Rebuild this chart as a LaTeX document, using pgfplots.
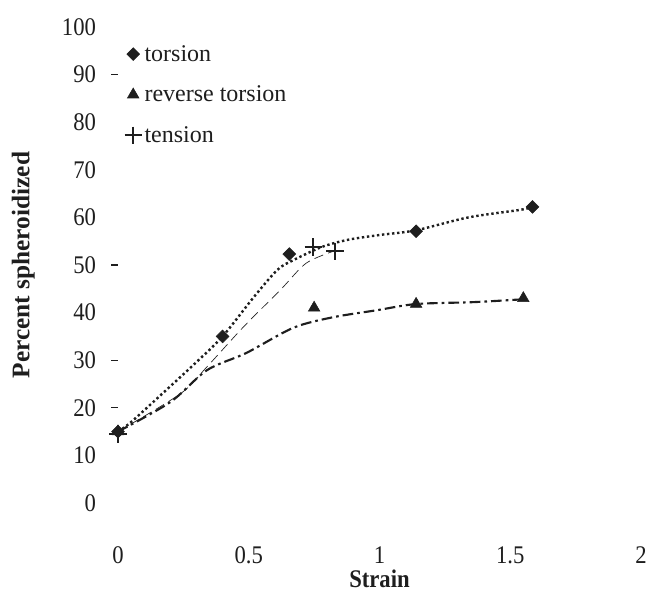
\documentclass[border=0pt]{standalone}
\usepackage{fontspec}
\setmainfont{Liberation Serif}
\usepackage{pgfplots}
\pgfplotsset{compat=1.18}

\definecolor{ink}{HTML}{1E1E1E}

\begin{document}
\begin{tikzpicture}
\begin{axis}[
    scale only axis,
    width=392.25pt,
    height=357pt,
    xmin=0, xmax=2,
    ymin=0, ymax=100,
    xtick={0,0.5,1,1.5,2},
    xticklabels={0,0.5,1,1.5,2},
    ytick={0,10,...,100},
    ytick pos=left,
    axis line style={draw=none},
    major tick length=0pt,
    extra y ticks={20,30,50,90},
    extra y tick labels={},
    extra y tick style={major tick length=5pt, tick align=outside, tick style={ink, line width=0.8pt}},
    /pgf/number format/assume math mode=true,
    tick label style={font=\fontsize{17}{20}\selectfont, text=ink, yscale=1.12},
    yticklabel style={xshift=-13pt},
    xticklabel style={yshift=-26pt},
    xlabel={Strain},
    ylabel={Percent spheroidized},
    xlabel style={font=\fontsize{17}{20}\bfseries, text=ink, at={(axis description cs:0.5,0)}, anchor=center, yshift=-57pt, yscale=1.12},
    ylabel style={font=\fontsize{19}{22}\bfseries, text=ink, at={(axis description cs:0,0.5)}, anchor=center, yshift=71pt},
    clip=false,
    legend style={draw=none, fill=none, at={(axis description cs:0.012,0.968)}, anchor=north west,
        font=\fontsize{18}{21}\selectfont, text=ink, row sep=13pt, inner sep=0pt},
    legend cell align=left,
    legend image code/.code={\draw[#1] plot coordinates {(0.18cm,0cm)};},
]
% trend curves
\addplot[ink, line width=1.8pt, dotted, smooth, forget plot] coordinates {
    (0,15) (0.05,17) (0.17,23) (0.30,29.6) (0.40,35) (0.52,43.3) (0.61,49)
    (0.67,51) (0.78,53.8) (0.88,55.3) (1.00,56.3) (1.14,57.3) (1.34,60) (1.54,61.6) (1.585,62.2)
};
\addplot[ink, line width=1.6pt, dash pattern=on 8pt off 3pt on 2pt off 3pt, smooth, forget plot] coordinates {
    (0,15) (0.2,21.2) (0.34,27.9) (0.49,31.5) (0.67,36.8) (0.82,39) (0.99,40.5)
    (1.14,41.8) (1.36,42.2) (1.55,42.8)
};
\addplot[ink, line width=0.5pt, dash pattern=on 7pt off 4pt, smooth, forget plot] coordinates {
    (0,15) (0.24,23) (0.34,28.6) (0.48,37) (0.62,44.7) (0.72,50.4) (0.83,53)
};
% measured points
\addplot[only marks, mark=square*, mark size=3.4pt, mark options={rotate=45}, ink, fill=ink] coordinates {
    (0,15) (0.40,35) (0.655,52.3) (1.14,57.1) (1.585,62.2)
};
\addlegendentry{torsion}
\addplot[only marks, mark=triangle*, mark size=5pt, ink, fill=ink] coordinates {
    (0,15) (0.75,41) (1.14,41.8) (1.55,43)
};
\addlegendentry{reverse torsion}
\addplot[only marks, mark=+, mark size=6.5pt, ink, line width=1.4pt] coordinates {
    (0,14.5) (0.747,53.8) (0.83,52.9)
};
\addlegendentry{tension}
\end{axis}
\pgfresetboundingbox
\path[use as bounding box] (-88.5pt,-66.75pt) rectangle (398.25pt,377.25pt);
\end{tikzpicture}
\end{document}
